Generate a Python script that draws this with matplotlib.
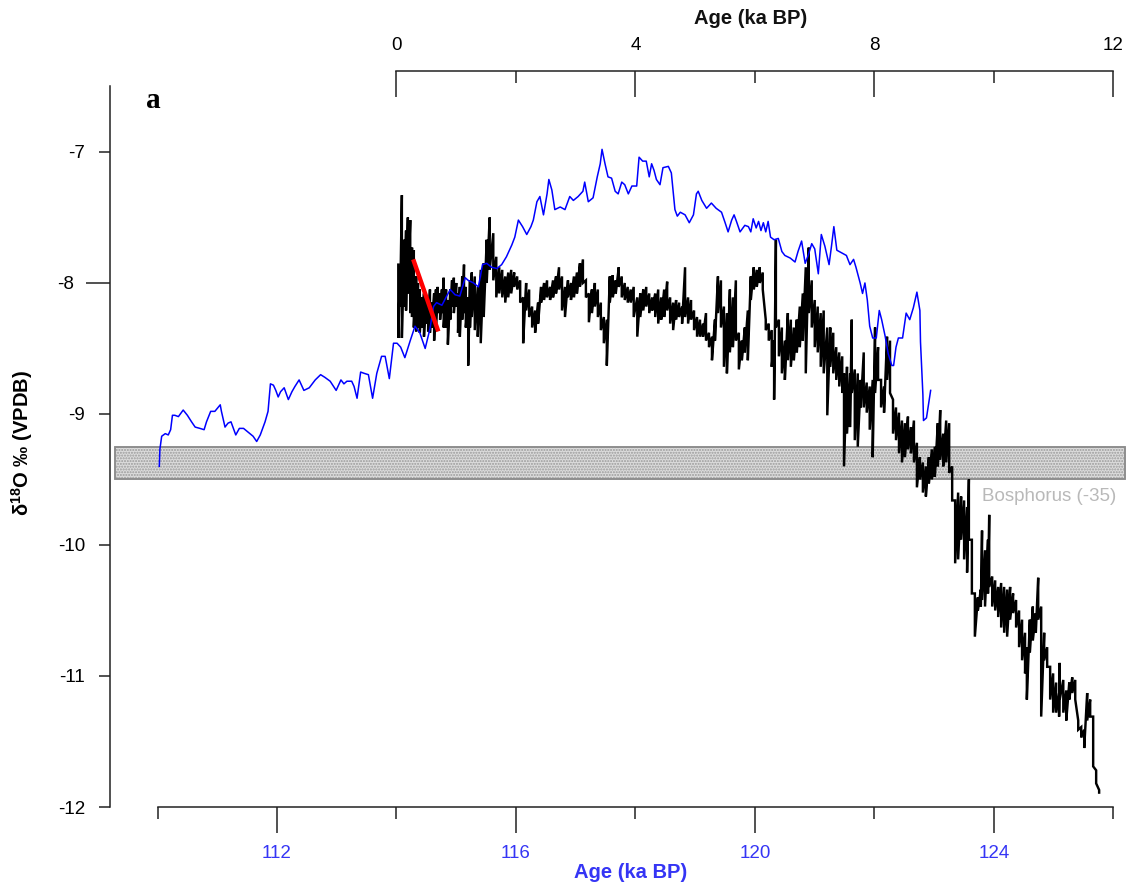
import matplotlib
matplotlib.use("Agg")
import matplotlib.pyplot as plt
import numpy as np
from matplotlib.patches import Rectangle

plt.rcParams['font.family'] = ['Liberation Sans', 'DejaVu Sans']
plt.rcParams['mathtext.fontset'] = 'custom'
plt.rcParams['mathtext.rm'] = 'Liberation Sans'
plt.rcParams['mathtext.bf'] = 'Liberation Sans:bold'

# ---- Blue record (age in ka BP, d18O permil VPDB) ----
blue_age = [110.03, 110.04, 110.07, 110.13, 110.18, 110.22, 110.25, 110.29, 110.35, 110.43,
            110.50, 110.57, 110.63, 110.71, 110.78, 110.82, 110.89, 110.96, 111.05, 111.07,
            111.13, 111.18, 111.23, 111.27, 111.31, 111.37, 111.44, 111.52, 111.60, 111.66,
            111.72, 111.80, 111.85, 111.89, 111.94, 111.98, 112.02, 112.06, 112.12, 112.19,
            112.25, 112.30, 112.37, 112.45, 112.54, 112.64, 112.73, 112.80, 112.89, 112.99,
            113.07, 113.12, 113.17, 113.25, 113.29, 113.34, 113.40, 113.46, 113.53, 113.60,
            113.67, 113.75, 113.81, 113.88, 113.95, 114.01, 114.07, 114.14, 114.23, 114.31,
            114.39, 114.48, 114.56, 114.62, 114.67, 114.76, 114.84, 114.90, 114.98, 115.06,
            115.15, 115.20, 115.29, 115.37, 115.44, 115.51, 115.59, 115.68, 115.76, 115.84,
            115.93, 115.98, 116.04, 116.11, 116.18, 116.25, 116.29, 116.35, 116.40, 116.46,
            116.52, 116.55, 116.60, 116.65, 116.74, 116.82, 116.90, 116.96, 117.04, 117.12,
            117.15, 117.21, 117.29, 117.36, 117.41, 117.44, 117.49, 117.54, 117.60, 117.66,
            117.71, 117.77, 117.82, 117.88, 117.94, 118.02, 118.06, 118.12, 118.18, 118.23,
            118.27, 118.31, 118.35, 118.41, 118.46, 118.55, 118.60, 118.66, 118.70, 118.75,
            118.83, 118.90, 118.97, 119.02, 119.05, 119.11, 119.19, 119.27, 119.35, 119.44,
            119.50, 119.55, 119.61, 119.65, 119.69, 119.75, 119.83, 119.89, 119.93, 119.97,
            120.02, 120.06, 120.10, 120.14, 120.18, 120.22, 120.26, 120.32, 120.39, 120.45,
            120.50, 120.59, 120.67, 120.72, 120.78, 120.84, 120.89, 120.95, 121.00, 121.06,
            121.11, 121.17, 121.24, 121.28, 121.32, 121.37, 121.45, 121.53, 121.59, 121.65,
            121.69, 121.76, 121.80, 121.84, 121.88, 121.92, 121.97, 122.03, 122.08, 122.12,
            122.18, 122.23, 122.29, 122.32, 122.36, 122.40, 122.47, 122.53, 122.59, 122.65,
            122.71, 122.76, 122.77, 122.81, 122.82, 122.87, 122.94]
blue_d18o = [-9.40, -9.27, -9.17, -9.15, -9.16, -9.12, -9.01, -9.01, -9.02, -8.97,
             -9.01, -9.06, -9.10, -9.11, -9.12, -9.06, -8.98, -8.98, -8.93, -8.98,
             -9.10, -9.07, -9.06, -9.11, -9.16, -9.11, -9.11, -9.14, -9.17, -9.21,
             -9.16, -9.06, -8.98, -8.77, -8.78, -8.82, -8.87, -8.83, -8.80, -8.89,
             -8.83, -8.79, -8.74, -8.82, -8.80, -8.74, -8.70, -8.72, -8.75, -8.82,
             -8.74, -8.77, -8.75, -8.75, -8.79, -8.88, -8.68, -8.69, -8.70, -8.88,
             -8.69, -8.56, -8.56, -8.73, -8.46, -8.46, -8.49, -8.57, -8.44, -8.33,
             -8.38, -8.50, -8.35, -8.18, -8.15, -8.17, -8.10, -8.05, -8.09, -8.10,
             -7.96, -7.98, -8.00, -8.03, -7.86, -7.85, -7.88, -7.89, -7.86, -7.80,
             -7.71, -7.65, -7.52, -7.57, -7.63, -7.57, -7.52, -7.38, -7.34, -7.48,
             -7.32, -7.21, -7.29, -7.44, -7.42, -7.44, -7.34, -7.37, -7.34, -7.30,
             -7.23, -7.38, -7.35, -7.19, -7.09, -6.98, -7.09, -7.19, -7.20, -7.30,
             -7.32, -7.23, -7.25, -7.32, -7.26, -7.26, -7.04, -7.07, -7.07, -7.19,
             -7.09, -7.14, -7.21, -7.25, -7.12, -7.11, -7.16, -7.44, -7.49, -7.46,
             -7.48, -7.54, -7.48, -7.32, -7.30, -7.37, -7.43, -7.39, -7.43, -7.46,
             -7.54, -7.61, -7.52, -7.48, -7.53, -7.61, -7.56, -7.57, -7.61, -7.51,
             -7.58, -7.53, -7.60, -7.54, -7.61, -7.53, -7.65, -7.67, -7.66, -7.76,
             -7.79, -7.81, -7.84, -7.76, -7.68, -7.85, -7.79, -7.70, -7.74, -7.93,
             -7.63, -7.72, -7.86, -7.72, -7.57, -7.75, -7.77, -7.79, -7.86, -7.82,
             -7.88, -8.00, -8.08, -8.00, -8.13, -8.33, -8.42, -8.42, -8.21, -8.28,
             -8.41, -8.54, -8.63, -8.63, -8.49, -8.42, -8.42, -8.23, -8.28, -8.19,
             -8.07, -8.21, -8.45, -8.85, -9.05, -9.03, -8.82]

# ---- Black high-resolution record: per age step, upper and lower excursion ----
black_age = [114.03, 114.06, 114.09, 114.13, 114.16, 114.19, 114.23, 114.26, 114.29, 114.33,
             114.36, 114.39, 114.43, 114.46, 114.49, 114.53, 114.56, 114.59, 114.63, 114.66,
             114.69, 114.73, 114.76, 114.79, 114.83, 114.86, 114.90, 114.93, 114.96, 115.00,
             115.03, 115.06, 115.10, 115.13, 115.16, 115.20, 115.23,
             115.26, 115.31, 115.36, 115.41, 115.46, 115.51, 115.56, 115.62, 115.67, 115.72,
             115.77, 115.82, 115.87, 115.92, 115.97, 116.02, 116.07, 116.12, 116.17, 116.22,
             116.27, 116.32, 116.37, 116.42, 116.47, 116.52, 116.57, 116.62, 116.67, 116.72,
             116.77, 116.82, 116.87, 116.92, 116.97, 117.02, 117.07, 117.12, 117.17, 117.22,
             117.27, 117.32, 117.37, 117.42, 117.47, 117.52, 117.57, 117.62, 117.67, 117.72,
             117.77, 117.82, 117.87, 117.92, 117.97, 118.03, 118.08, 118.13, 118.18, 118.23,
             118.28, 118.33, 118.38, 118.43, 118.48, 118.53, 118.58, 118.63, 118.68, 118.73,
             118.78, 118.83, 118.88, 118.93, 118.98, 119.03, 119.08,
             119.13, 119.18, 119.23, 119.28, 119.33, 119.38, 119.43, 119.48, 119.53, 119.58,
             119.63, 119.68, 119.73, 119.78, 119.83, 119.88, 119.93, 119.98, 120.03, 120.08,
             120.13, 120.18, 120.23, 120.28, 120.32, 120.35, 120.40, 120.45, 120.50, 120.55,
             120.60, 120.65, 120.70, 120.75, 120.80, 120.85, 120.90, 120.95, 121.00, 121.05,
             121.10, 121.15, 121.21, 121.26, 121.31, 121.36, 121.41, 121.46, 121.49, 121.54,
             121.59, 121.62, 121.67, 121.72, 121.77, 121.82, 121.87, 121.92, 121.97, 122.01,
             122.06, 122.11, 122.16, 122.21, 122.26, 122.31, 122.36, 122.41, 122.46, 122.51,
             122.56, 122.61, 122.66, 122.71, 122.76, 122.81, 122.86, 122.91, 122.96, 123.01,
             123.06, 123.10, 123.15, 123.20, 123.25, 123.30, 123.35, 123.40, 123.45, 123.50,
             123.55, 123.58, 123.63, 123.68, 123.73, 123.78, 123.80, 123.85, 123.90, 123.92,
             123.97, 124.02, 124.07, 124.12, 124.17, 124.22, 124.27, 124.32, 124.37, 124.42,
             124.47, 124.52, 124.55, 124.60, 124.65, 124.70, 124.74, 124.79, 124.84, 124.89,
             124.94, 124.99, 125.04, 125.09, 125.10, 125.16, 125.21, 125.26, 125.31, 125.36,
             125.41, 125.46, 125.51, 125.56, 125.61, 125.66, 125.71, 125.76]
black_high = [-7.86, -7.88, -7.33, -7.67, -7.60, -7.50, -7.52, -7.73, -7.75, -7.95,
              -8.00, -8.05, -8.11, -8.08, -8.13, -8.11, -8.05, -8.15, -8.08, -8.05,
              -8.03, -8.08, -8.05, -7.96, -8.05, -8.13, -8.05, -7.98, -7.96, -8.00,
              -8.08, -8.03, -7.95, -7.86, -8.03, -8.11, -7.98,
              -7.92, -7.95, -8.03, -7.90, -7.85, -7.67, -7.50, -7.62, -7.80, -7.88,
              -7.90, -7.95, -7.92, -7.90, -7.92, -7.95, -7.98, -8.11, -8.00, -8.05,
              -8.18, -8.21, -8.15, -8.03, -8.00, -7.98, -8.03, -7.98, -7.95, -7.88,
              -7.95, -8.03, -7.98, -8.00, -7.95, -7.92, -7.85, -7.82, -7.98, -8.08,
              -8.05, -8.00, -8.05, -8.15, -8.26, -8.28, -7.95, -7.94, -7.98, -7.88,
              -7.95, -8.00, -8.03, -8.05, -8.03, -8.11, -8.08, -8.05, -8.03, -8.08,
              -8.11, -8.08, -8.05, -8.11, -8.05, -7.99, -8.11, -8.15, -8.13, -8.15,
              -8.18, -7.88, -8.11, -8.13, -8.21, -8.26, -8.28,
              -8.31, -8.23, -8.38, -8.41, -8.28, -7.95, -7.98, -8.18, -8.23, -8.05,
              -8.11, -7.98, -8.38, -8.44, -8.34, -8.21, -7.95, -7.88, -7.90, -7.88,
              -7.92, -8.28, -8.31, -8.36, -8.44, -7.67, -8.28, -8.34, -8.44, -8.23,
              -8.28, -8.34, -8.28, -8.18, -8.08, -7.88, -7.73, -7.98, -8.13, -8.18,
              -8.23, -8.21, -8.34, -8.34, -8.38, -8.49, -8.53, -8.56, -8.69, -8.64,
              -8.69, -8.28, -8.66, -8.69, -8.74, -8.53, -8.76, -8.79, -8.74, -8.34,
              -8.49, -8.74, -8.79, -8.41, -8.44, -8.89, -8.95, -8.99, -9.05, -9.07,
              -9.02, -9.10, -9.05, -9.22, -9.33, -9.37, -9.40, -9.33, -9.27, -9.25,
              -9.07, -8.97, -9.15, -9.05, -9.07, -9.40, -9.66, -9.60, -9.63, -9.66,
              -9.71, -9.50, -9.96, -10.37, -10.40, -10.34, -9.89, -10.04, -9.96, -9.77,
              -10.24, -10.27, -10.32, -10.29, -10.32, -10.34, -10.32, -10.37, -10.42, -10.50,
              -10.57, -10.67, -10.78, -10.57, -10.47, -10.52, -10.25, -10.47, -10.67, -10.78,
              -10.93, -10.98, -11.05, -11.13, -10.90, -11.03, -11.11, -11.05, -11.01, -11.03,
              -11.34, -11.39, -11.41, -11.13, -11.18, -11.31, -11.72, -11.87]
black_low = [-8.42, -8.18, -8.42, -8.18, -8.21, -8.08, -8.23, -8.26, -8.34, -8.37,
             -8.34, -8.38, -8.34, -8.41, -8.31, -8.37, -8.38, -8.34, -8.44, -8.36,
             -8.23, -8.28, -8.23, -8.34, -8.34, -8.47, -8.28, -8.18, -8.23, -8.18,
             -8.38, -8.41, -8.28, -8.23, -8.34, -8.63, -8.34,
             -8.26, -8.36, -8.41, -8.46, -8.26, -8.00, -7.90, -7.98, -8.11, -8.08,
             -8.11, -8.15, -8.11, -8.08, -8.03, -8.05, -8.15, -8.46, -8.21, -8.26,
             -8.34, -8.38, -8.31, -8.15, -8.13, -8.11, -8.13, -8.11, -8.08, -8.05,
             -8.21, -8.26, -8.11, -8.13, -8.11, -8.08, -8.03, -8.00, -8.11, -8.30,
             -8.23, -8.18, -8.26, -8.36, -8.46, -8.63, -8.15, -8.11, -8.08, -8.03,
             -8.11, -8.13, -8.15, -8.15, -8.26, -8.41, -8.26, -8.21, -8.18, -8.23,
             -8.21, -8.26, -8.31, -8.28, -8.26, -8.21, -8.31, -8.36, -8.28, -8.26,
             -8.31, -8.26, -8.31, -8.28, -8.36, -8.41, -8.41,
             -8.41, -8.44, -8.49, -8.59, -8.44, -8.23, -8.34, -8.64, -8.69, -8.53,
             -8.49, -8.44, -8.66, -8.59, -8.53, -8.59, -8.13, -8.05, -8.03, -8.00,
             -8.05, -8.36, -8.44, -8.64, -8.89, -8.34, -8.56, -8.69, -8.74, -8.59,
             -8.64, -8.59, -8.53, -8.49, -8.44, -8.69, -8.23, -8.34, -8.49, -8.53,
             -8.64, -8.69, -9.01, -8.64, -8.69, -8.74, -8.79, -8.84, -9.40, -9.15,
             -9.10, -8.84, -9.20, -9.25, -8.95, -8.95, -8.99, -9.12, -9.33, -8.84,
             -8.74, -8.95, -8.99, -8.74, -8.84, -9.15, -9.20, -9.30, -9.37, -9.33,
             -9.27, -9.30, -9.37, -9.56, -9.50, -9.60, -9.63, -9.53, -9.50, -9.48,
             -9.40, -9.35, -9.40, -9.37, -9.45, -9.66, -10.14, -10.11, -9.96, -10.11,
             -10.21, -9.96, -10.37, -10.70, -10.50, -10.47, -10.42, -10.47, -10.37, -10.32,
             -10.47, -10.50, -10.55, -10.63, -10.67, -10.70, -10.57, -10.52, -10.63, -10.78,
             -10.88, -10.98, -11.18, -10.82, -10.73, -10.67, -10.57, -11.31, -10.88, -10.93,
             -11.18, -11.28, -11.28, -11.31, -11.18, -11.28, -11.34, -11.18, -11.13, -11.18,
             -11.41, -11.47, -11.55, -11.34, -11.31, -11.69, -11.82, -11.89]

# ---- Red trend segment ----
red_age = [114.28, 114.70]
red_d18o = [-7.82, -8.37]

# ---- Bosphorus threshold band ----
band_d18o = (-9.50, -9.25)
band_age = (109.29, 126.19)
band_label = "Bosphorus (-35)"

# ---- Axes ticks ----
bottom_major = [112, 116, 120, 124]
bottom_minor = [110, 114, 118, 122, 126]
top_major = [0, 4, 8, 12]
top_minor = [2, 6, 10]
y_ticks = [-12, -11, -10, -9, -8, -7]
top_offset = 114  # upper axis = lower axis age - 114 ka

W, H = 1128, 883
fig = plt.figure(figsize=(W / 100, H / 100), dpi=100)
ax = fig.add_axes([110 / W, 76 / H, 1018 / W, 736 / H])
xlim = (109.205, 126.243)
ax.set_xlim(*xlim)
ax.set_ylim(-12.0, -6.382)
ax.patch.set_visible(False)

axis_col = '#222222'
blue_lab = '#3535f5'

# band
ax.add_patch(Rectangle((band_age[0], band_d18o[0]), band_age[1] - band_age[0],
                       band_d18o[1] - band_d18o[0], facecolor='#dcdcdc',
                       edgecolor='#9a9a9a', hatch='......', linewidth=1.2, zorder=1))
ax.add_patch(Rectangle((band_age[0], band_d18o[0]), band_age[1] - band_age[0],
                       band_d18o[1] - band_d18o[0], facecolor='none',
                       edgecolor='#8c8c8c', linewidth=1.2, zorder=1.1))
ax.text(123.80, -9.63, band_label, color='#b9b9b9', fontsize=13.5,
        ha='left', va='center', zorder=2)

# black record: vertical excursion at each age step
bx = np.repeat(np.asarray(black_age), 2)
by = np.column_stack([black_high, black_low]).ravel()
ax.plot(bx, by, color='black', lw=1.75, zorder=3, solid_joinstyle='miter')

# blue record
ax.plot(blue_age, blue_d18o, color='#0000ff', lw=1.1, zorder=4)

# red trend
ax.plot(red_age, red_d18o, color='#ff0000', lw=3.2, zorder=5, solid_capstyle='butt')

# spines
for s in ['top', 'right']:
    ax.spines[s].set_visible(False)
ax.spines['left'].set_bounds(-12, -6.5)
ax.spines['bottom'].set_bounds(110, 126)
for s in ['left', 'bottom']:
    ax.spines[s].set_linewidth(1.1)
    ax.spines[s].set_color(axis_col)

ax.set_xticks(bottom_major)
ax.set_xticks(bottom_minor, minor=True)
ax.set_xticklabels([str(v) for v in bottom_major])
ax.tick_params(axis='x', which='major', length=18.7, width=1.1, color=axis_col,
               labelsize=13.5, labelcolor=blue_lab, pad=9)
ax.tick_params(axis='x', which='minor', length=8.6, width=1.1, color=axis_col)

ax.set_yticks(y_ticks)
ax.set_yticklabels([str(v) for v in y_ticks])
ax.tick_params(axis='y', which='major', length=8, width=1.1, color=axis_col,
               labelsize=13.5, labelcolor='black', pad=10)
# the -8 tick is drawn longer on this axis
for t, v in zip(ax.yaxis.get_major_ticks(), y_ticks):
    if v == -8:
        t._apply_params(size=17.5, pad=8.5)

# upper age axis
ax2 = ax.twiny()
ax2.set_xlim(xlim[0] - top_offset, xlim[1] - top_offset)
for s in ['left', 'right', 'bottom']:
    ax2.spines[s].set_visible(False)
ax2.spines['top'].set_bounds(0, 12)
ax2.spines['top'].set_linewidth(1.1)
ax2.spines['top'].set_color(axis_col)
ax2.set_xticks(top_major)
ax2.set_xticks(top_minor, minor=True)
ax2.set_xticklabels([str(v) for v in top_major])
ax2.tick_params(axis='x', which='major', direction='in', length=18.7, width=1.1,
                color=axis_col, labelsize=13.5, pad=12)
ax2.tick_params(axis='x', which='minor', direction='in', length=8.6, width=1.1,
                color=axis_col)

# titles and labels
fig.text(751 / W, 1 - 19 / H, 'Age (ka BP)', fontsize=14.5, ha='center', va='center',
         fontweight='bold', color='#111111')
fig.text(631 / W, 1 - 873 / H, 'Age (ka BP)', fontsize=14.5, ha='center', va='center',
         fontweight='bold', color=blue_lab)
fig.text(22 / W, 1 - 443 / H, r'δ$^{\mathbf{18}}$O ‰ (VPDB)', fontsize=14.5,
         rotation=90, ha='center', va='center', fontweight='bold')
fig.text(153 / W, 1 - 101 / H, 'a', fontsize=21, ha='center', va='center',
         fontweight='bold', family='Liberation Serif')

fig.savefig('out.png', dpi=100)
